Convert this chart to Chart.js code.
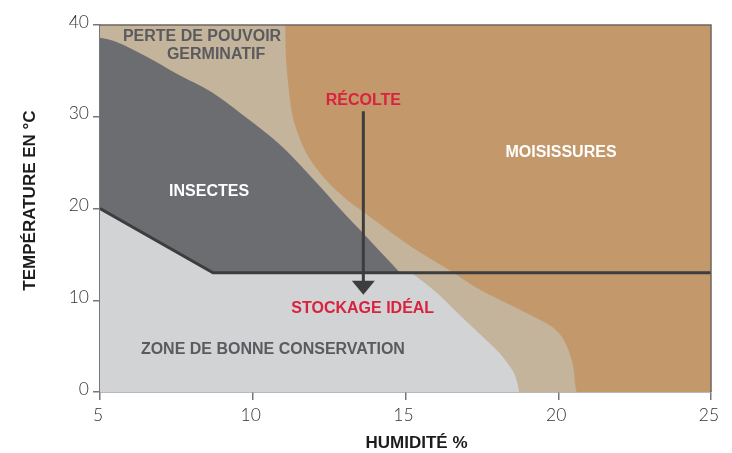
<!DOCTYPE html>
<html lang="fr">
<head>
<meta charset="utf-8">
<title>Conservation des grains</title>
<script src="https://cdn.jsdelivr.net/npm/chart.js@4.4.1/dist/chart.umd.min.js"></script>
<style>
  html, body { margin: 0; padding: 0; background: #fff; }
  #grafica { display: block; }
</style>
</head>
<body>
<canvas id="grafica" width="732" height="453"></canvas>
<script>
// axes
const humiditeTicks = [5, 10, 15, 20, 25]
const temperatureTicks = [0, 10, 20, 30, 40]

// limite des moisissures (humidité %, température °C)
const moisHum = [11.06, 11.08, 11.17, 11.33, 11.76, 12.4, 13.1, 13.67, 15.15, 16.57, 17.44, 18.53, 19.18, 19.78, 20.11, 20.33, 20.49, 20.6, 20.75, 25]
const moisTemp = [40, 36.9, 33.3, 29.7, 26.0, 23.1, 20.9, 19.5, 15.9, 13.0, 11.14, 9.32, 8.24, 7.15, 6.06, 4.6, 2.8, 0, 0, 0]

// limite des insectes
const insHum = [5, 5.5, 6.5, 7.56, 8.65, 9.75, 10.84, 11.9, 12.96, 13.5, 14.0, 14.82]
const insTemp = [38.6, 38.2, 36.6, 34.6, 32.7, 30.0, 27.1, 23.5, 19.6, 17.7, 15.9, 13.0]

// zone de bonne conservation (sous la ligne)
const consHum = [5, 15.1, 15.47, 16.13, 16.8, 17.44, 18.09, 18.53, 18.66, 18.72]
const consTemp = [13, 13, 12.3, 10.5, 8.3, 6.3, 4.2, 2.2, 1.0, 0]

// ligne de stockage
const ligneHum = [5, 8.7, 25]
const ligneTemp = [20, 13, 13]

// flèche récolte -> stockage
const flecheHum = [13.62, 13.62]
const flecheTemp = [30.6, 10.6]

const gris = "#5a5b5e"
const rouge = "#d9223f"
const blanc = "#ffffff"

// textes posés dans le graphique (coordonnées des axes)
const etiquettes = [
    { texte: "PERTE DE POUVOIR", x: 8.34, y: 38.85, couleur: gris },
    { texte: "GERMINATIF", x: 8.8, y: 36.9, couleur: gris },
    { texte: "INSECTES", x: 8.57, y: 22.0, couleur: blanc },
    { texte: "RÉCOLTE", x: 13.62, y: 31.95, couleur: rouge },
    { texte: "MOISISSURES", x: 20.09, y: 26.2, couleur: blanc },
    { texte: "STOCKAGE IDÉAL", x: 13.6, y: 9.2, couleur: rouge },
    { texte: "ZONE DE BONNE CONSERVATION", x: 10.66, y: 4.72, couleur: gris }
]

const pts = (xs, ys) => xs.map((x, i) => ({ x: x, y: ys[i] }))

const fondZone = {
    type: "line", pointRadius: 0, borderWidth: 0, tension: 0
}

const plugDessin = {
    id: "dessin",
    afterDatasetsDraw(chart) {
        const ctx = chart.ctx
        const xs = chart.scales.x
        const ys = chart.scales.y
        const a = chart.chartArea

        // cadre haut et droite
        ctx.save()
        ctx.strokeStyle = "#6e665e"
        ctx.lineWidth = 1.5
        ctx.beginPath()
        ctx.moveTo(a.left, a.top)
        ctx.lineTo(a.right, a.top)
        ctx.lineTo(a.right, a.bottom)
        ctx.stroke()

        // flèche
        const fx = xs.getPixelForValue(flecheHum[0])
        const fy0 = ys.getPixelForValue(flecheTemp[0])
        const fy1 = ys.getPixelForValue(flecheTemp[1])
        ctx.strokeStyle = "#3d3d3e"
        ctx.fillStyle = "#3d3d3e"
        ctx.lineWidth = 3
        ctx.beginPath()
        ctx.moveTo(fx, fy0)
        ctx.lineTo(fx, fy1 - 12)
        ctx.stroke()
        ctx.beginPath()
        ctx.moveTo(fx - 11.5, fy1 - 14)
        ctx.lineTo(fx + 11.5, fy1 - 14)
        ctx.lineTo(fx, fy1)
        ctx.closePath()
        ctx.fill()

        // textes
        ctx.textAlign = "center"
        ctx.textBaseline = "alphabetic"
        ctx.font = "bold 16px 'Liberation Sans', Arial, sans-serif"
        etiquettes.forEach(e => {
            ctx.fillStyle = e.couleur
            ctx.fillText(e.texte, xs.getPixelForValue(e.x), ys.getPixelForValue(e.y) + 5.8)
        })

        // titres des axes
        ctx.fillStyle = "#1c1c1c"
        ctx.font = "bold 17px 'Liberation Sans', Arial, sans-serif"
        ctx.fillText("HUMIDITÉ %", (a.left + a.right) / 2 + 11, 448)
        ctx.translate(34.5, (a.top + a.bottom) / 2 - 8)
        ctx.rotate(-Math.PI / 2)
        ctx.fillText("TEMPÉRATURE EN °C", 0, 0)
        ctx.restore()
    }
}

const grafDOM = document.querySelector("#grafica")
const config = {
    type: "line",
    data: {
        datasets: [
            // fond : perte de pouvoir germinatif
            { ...fondZone, data: pts([5, 25], [40, 40]), fill: "origin", backgroundColor: "#c4b49b", order: 9 },
            // moisissures
            { ...fondZone, data: pts(moisHum, moisTemp), fill: "end", tension: 0.3, backgroundColor: "#c3996b", order: 8 },
            // insectes
            { ...fondZone, data: pts(insHum, insTemp), fill: "origin", tension: 0.35, backgroundColor: "#6c6d71", order: 7 },
            // bonne conservation
            { ...fondZone, data: pts(ligneHum.slice(0, 2), ligneTemp.slice(0, 2)), fill: "origin", backgroundColor: "#d2d3d5", order: 6 },
            { ...fondZone, data: pts(consHum, consTemp), fill: "origin", tension: 0.3, backgroundColor: "#d2d3d5", order: 5 },
            // ligne
            { type: "line", data: pts(ligneHum, ligneTemp), fill: false, pointRadius: 0, borderWidth: 3, borderColor: "#3d3d3e", tension: 0, order: 1 }
        ]
    },
    options: {
        responsive: false,
        animation: false,
        devicePixelRatio: 1,
        events: [],
        layout: { padding: { left: 0, right: 21, top: 25, bottom: 0 } },
        plugins: {
            legend: { display: false },
            tooltip: { enabled: false }
        },
        scales: {
            x: {
                type: "linear",
                min: 5,
                max: 25,
                afterBuildTicks: s => { s.ticks = humiditeTicks.map(v => ({ value: v })) },
                afterFit: s => { s.height = 61 },
                grid: { drawOnChartArea: false, drawTicks: true, tickLength: 8, color: "#77777a", lineWidth: 1.5 },
                border: { display: true, color: "#77777a", width: 1.5 },
                ticks: { color: "#333", padding: 5, labelOffset: -2, font: { family: "Lato", weight: 300, size: 17.5 } }
            },
            y: {
                type: "linear",
                min: 0,
                max: 40,
                afterBuildTicks: s => { s.ticks = temperatureTicks.map(v => ({ value: v })) },
                afterFit: s => { s.width = 100 },
                grid: { drawOnChartArea: false, drawTicks: true, tickLength: 7, color: "#77777a", lineWidth: 1.5 },
                border: { display: true, color: "#77777a", width: 1.5 },
                ticks: { color: "#333", padding: 4, labelOffset: -3, font: { family: "Lato", weight: 300, size: 17.5 } }
            }
        }
    },
    plugins: [plugDessin]
}
const miGraf = new Chart(grafDOM, config)
</script>
</body>
</html>
